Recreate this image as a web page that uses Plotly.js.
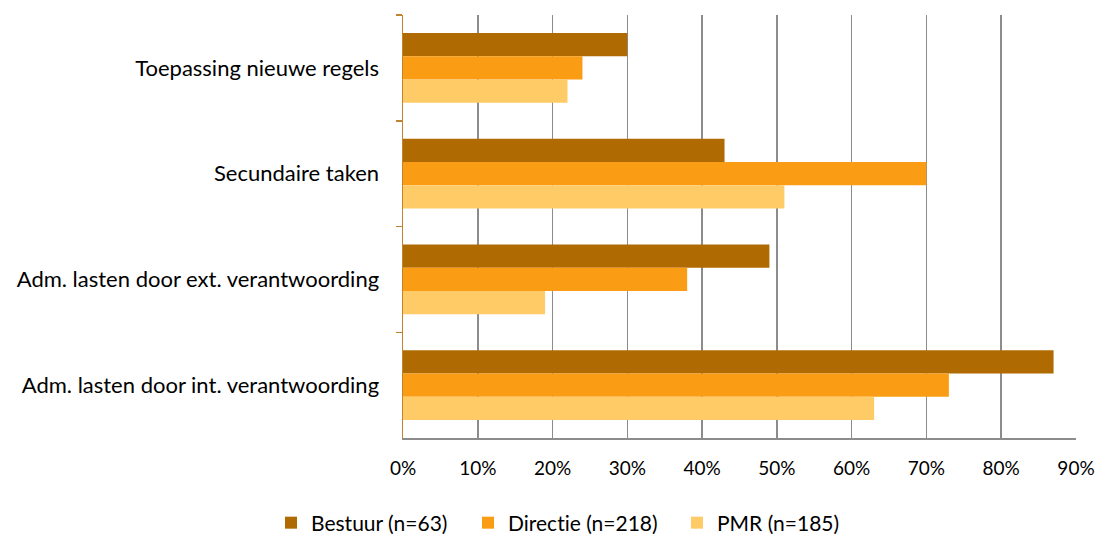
<!DOCTYPE html>
<html><head><meta charset="utf-8">
<script src="https://cdn.plot.ly/plotly-3.0.1.min.js"></script>
<style>html,body{margin:0;padding:0;background:#fff}#c{width:1098px;height:534px}
#c text{font-variant-ligatures:none;font-feature-settings:"liga" 0,"clig" 0}</style>
</head><body><div id="c"></div>
<script>
const categories = ["Toepassing nieuwe regels", "Secundaire taken", "Adm. lasten door ext. verantwoording", "Adm. lasten door int. verantwoording"];
const seriesNames = ["Bestuur (n=63)", "Directie (n=218)", "PMR (n=185)"];
const bestuur = [0.30, 0.43, 0.49, 0.87];
const directie = [0.24, 0.70, 0.38, 0.73];
const pmr = [0.22, 0.51, 0.19, 0.63];
const colors = ["#B06A02", "#FA9C14", "#FFCB66"];
const tickVals = [0, 0.1, 0.2, 0.3, 0.4, 0.5, 0.6, 0.7, 0.8, 0.9];
const tickText = ["0%", "10%", "20%", "30%", "40%", "50%", "60%", "70%", "80%", "90%"];
const legendWidths = [152, 164, 130];

const font = "Lato, 'Open Sans', sans-serif";
const data = [bestuur, directie, pmr].map((vals, i) => ({
  type: "bar", orientation: "h", x: vals, y: categories, name: seriesNames[i],
  marker: {color: colors[i], line: {width: 0}}, hoverinfo: "x+name",
  legendwidth: legendWidths[i]
}));

const layout = {
  width: 1098, height: 534,
  margin: {l: 403, r: 22, t: 15, b: 96, autoexpand: false},
  paper_bgcolor: "#fff", plot_bgcolor: "#fff",
  barmode: "group", bargap: 0.34, bargroupgap: 0,
  font: {family: font, size: 22, color: "#000"},
  xaxis: {
    range: [0, 0.9], tickvals: tickVals, ticktext: tickText,
    showgrid: true, gridcolor: "#8C8C8C", gridwidth: 1.5,
    zeroline: false, showline: true, linecolor: "#8C8C8C", linewidth: 1.5,
    ticks: "", tickfont: {family: font, size: 19, color: "#000"}, ticklabelstandoff: 13
  },
  yaxis: {
    type: "category", autorange: "reversed",
    showline: true, linecolor: "#C0842E", linewidth: 1.5,
    ticks: "outside", tickson: "boundaries", ticklen: 6, tickcolor: "#C0842E", tickwidth: 1.5,
    showgrid: false, tickfont: {family: font, size: 22, color: "#000"}, ticklabelstandoff: 18
  },
  showlegend: true,
  legend: {orientation: "h", x: (271 - 403) / (1098 - 403 - 22), xanchor: "left", y: -0.201, yanchor: "middle",
    font: {family: font, size: 21, color: "#000"}, itemwidth: 30, tracegroupgap: 0, traceorder: "normal"}
};
Plotly.newPlot("c", data, layout, {displayModeBar: false, staticPlot: true});
</script></body></html>
